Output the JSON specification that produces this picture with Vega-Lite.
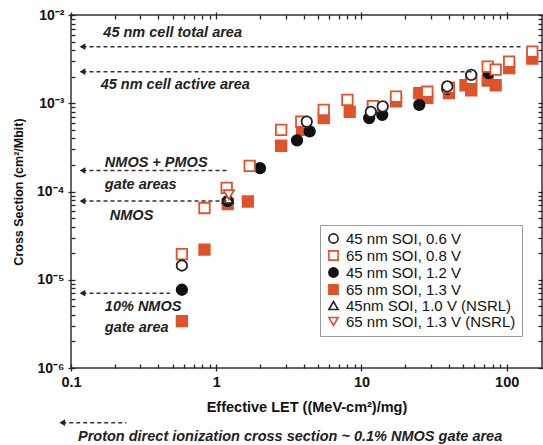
{
  "$schema": "https://vega.github.io/schema/vega-lite/v6.json",
  "width": 471,
  "height": 353,
  "autosize": "none",
  "padding": {"left": 71, "top": 15, "right": 1, "bottom": 77},
  "config": {
    "font": "Liberation Sans",
    "view": {"stroke": "#333", "strokeWidth": 1.5},
    "axis": {"domain": false, "tickColor": "#222", "tickWidth": 1.3, "ticks": true, "grid": false, "labelColor": "#111", "titleColor": "#111", "zindex": 2, "offset": -4}
  },
  "datasets": {
    "pts": [
      {"series": "65 nm SOI, 1.3 V", "let": 0.58, "cs": 3.4e-6},
      {"series": "65 nm SOI, 1.3 V", "let": 0.83, "cs": 2.2e-5},
      {"series": "65 nm SOI, 1.3 V", "let": 1.2, "cs": 7.2e-5},
      {"series": "65 nm SOI, 1.3 V", "let": 1.65, "cs": 7.7e-5},
      {"series": "65 nm SOI, 1.3 V", "let": 2.8, "cs": 3.3e-4},
      {"series": "65 nm SOI, 1.3 V", "let": 3.9, "cs": 5.0e-4},
      {"series": "65 nm SOI, 1.3 V", "let": 5.5, "cs": 6.8e-4},
      {"series": "65 nm SOI, 1.3 V", "let": 8.3, "cs": 8.0e-4},
      {"series": "65 nm SOI, 1.3 V", "let": 12, "cs": 8.9e-4},
      {"series": "65 nm SOI, 1.3 V", "let": 17.3, "cs": 1.05e-3},
      {"series": "65 nm SOI, 1.3 V", "let": 25, "cs": 1.3e-3},
      {"series": "65 nm SOI, 1.3 V", "let": 28.4, "cs": 1.15e-3},
      {"series": "65 nm SOI, 1.3 V", "let": 40, "cs": 1.3e-3},
      {"series": "65 nm SOI, 1.3 V", "let": 52, "cs": 1.6e-3},
      {"series": "65 nm SOI, 1.3 V", "let": 57, "cs": 1.4e-3},
      {"series": "65 nm SOI, 1.3 V", "let": 74, "cs": 1.8e-3},
      {"series": "65 nm SOI, 1.3 V", "let": 84, "cs": 1.6e-3},
      {"series": "65 nm SOI, 1.3 V", "let": 104, "cs": 2.5e-3},
      {"series": "65 nm SOI, 1.3 V", "let": 150, "cs": 3.2e-3},
      {"series": "45 nm SOI, 1.2 V", "let": 0.58, "cs": 7.7e-6},
      {"series": "45 nm SOI, 1.2 V", "let": 1.2, "cs": 7.8e-5},
      {"series": "45 nm SOI, 1.2 V", "let": 2.0, "cs": 1.84e-4},
      {"series": "45 nm SOI, 1.2 V", "let": 3.6, "cs": 3.8e-4},
      {"series": "45 nm SOI, 1.2 V", "let": 4.4, "cs": 4.8e-4},
      {"series": "45 nm SOI, 1.2 V", "let": 11.3, "cs": 6.8e-4},
      {"series": "45 nm SOI, 1.2 V", "let": 13.9, "cs": 7.4e-4},
      {"series": "45 nm SOI, 1.2 V", "let": 25, "cs": 9.6e-4},
      {"series": "45 nm SOI, 1.2 V", "let": 39, "cs": 1.45e-3},
      {"series": "45 nm SOI, 1.2 V", "let": 75, "cs": 2.2e-3},
      {"series": "65 nm SOI, 0.8 V", "let": 0.58, "cs": 1.95e-5},
      {"series": "65 nm SOI, 0.8 V", "let": 0.83, "cs": 6.5e-5},
      {"series": "65 nm SOI, 0.8 V", "let": 1.18, "cs": 1.1e-4},
      {"series": "65 nm SOI, 0.8 V", "let": 1.7, "cs": 1.95e-4},
      {"series": "65 nm SOI, 0.8 V", "let": 2.8, "cs": 5.0e-4},
      {"series": "65 nm SOI, 0.8 V", "let": 3.85, "cs": 6.2e-4},
      {"series": "65 nm SOI, 0.8 V", "let": 5.5, "cs": 8.4e-4},
      {"series": "65 nm SOI, 0.8 V", "let": 8, "cs": 1.09e-3},
      {"series": "65 nm SOI, 0.8 V", "let": 12, "cs": 9.3e-4},
      {"series": "65 nm SOI, 0.8 V", "let": 17.3, "cs": 1.19e-3},
      {"series": "65 nm SOI, 0.8 V", "let": 28.4, "cs": 1.35e-3},
      {"series": "65 nm SOI, 0.8 V", "let": 40, "cs": 1.5e-3},
      {"series": "65 nm SOI, 0.8 V", "let": 57, "cs": 1.9e-3},
      {"series": "65 nm SOI, 0.8 V", "let": 74, "cs": 2.6e-3},
      {"series": "65 nm SOI, 0.8 V", "let": 84, "cs": 2.4e-3},
      {"series": "65 nm SOI, 0.8 V", "let": 104, "cs": 2.96e-3},
      {"series": "65 nm SOI, 0.8 V", "let": 150, "cs": 3.84e-3},
      {"series": "45 nm SOI, 0.6 V", "let": 0.58, "cs": 1.45e-5},
      {"series": "45 nm SOI, 0.6 V", "let": 4.2, "cs": 6.2e-4},
      {"series": "45 nm SOI, 0.6 V", "let": 11.6, "cs": 8.0e-4},
      {"series": "45 nm SOI, 0.6 V", "let": 14, "cs": 9.2e-4},
      {"series": "45 nm SOI, 0.6 V", "let": 39, "cs": 1.55e-3},
      {"series": "45 nm SOI, 0.6 V", "let": 57, "cs": 2.1e-3},
      {"series": "45nm SOI, 1.0 V (NSRL)", "let": 1.2, "cs": 8.3e-5},
      {"series": "65 nm SOI, 1.3 V (NSRL)", "let": 1.22, "cs": 9.2e-5}
    ],
    "ann": [
      {"x1": 0.12, "x2": 128, "y": 4.38e-3},
      {"x1": 0.12, "x2": 58, "y": 2.28e-3},
      {"x1": 0.12, "x2": 1.2, "y": 1.73e-4},
      {"x1": 0.12, "x2": 1.2, "y": 7.8e-5},
      {"x1": 0.12, "x2": 0.48, "y": 7.05e-6},
      {"x1": 0.087, "x2": 0.24, "y": 2.4e-7}
    ],
    "txt": [
      {"x": 0.167, "y": 6.25e-3, "t": "45 nm cell total area"},
      {"x": 0.16, "y": 1.61e-3, "t": "45 nm cell active area"},
      {"x": 0.171, "y": 2.11e-4, "t": "NMOS + PMOS"},
      {"x": 0.171, "y": 1.19e-4, "t": "gate areas"},
      {"x": 0.185, "y": 5.3e-5, "t": "NMOS"},
      {"x": 0.171, "y": 4.93e-6, "t": "10% NMOS"},
      {"x": 0.171, "y": 2.85e-6, "t": "gate area"},
      {"x": 0.1117, "y": 1.66e-7, "t": "Proton direct ionization cross section ~ 0.1% NMOS gate area"}
    ]
  },
  "resolve": {"axis": {"x": "independent", "y": "independent"}},
  "layer": [
    {
      "data": {"name": "pts"},
      "mark": {"type": "point", "size": 110, "strokeWidth": 1.8, "opacity": 1},
      "encoding": {
        "x": {
          "field": "let", "type": "quantitative",
          "scale": {"type": "log", "domain": [0.1, 175], "nice": false},
          "axis": {
            "orient": "bottom",
            "title": "Effective LET ((MeV-cm²)/mg)",
            "titleFontSize": 14.5, "titleFontWeight": "bold", "titlePadding": 12,
            "values": [0.1,0.2,0.3,0.4,0.5,0.6,0.7,0.8,0.9,1,2,3,4,5,6,7,8,9,10,20,30,40,50,60,70,80,90,100],
            "labelExpr": "abs(log(datum.value)/LN10 - round(log(datum.value)/LN10)) < 0.001 ? format(datum.value, '~g') : ''",
            "labelFontSize": 14.5, "labelFontWeight": "bold", "labelPadding": 4,
            "tickSize": {"condition": {"test": "abs(log(datum.value)/LN10 - round(log(datum.value)/LN10)) < 0.001", "value": 7}, "value": 4},
            "labelFlush": false
          }
        },
        "y": {
          "field": "cs", "type": "quantitative",
          "scale": {"type": "log", "domain": [1e-6, 1e-2], "nice": false},
          "axis": {
            "orient": "left",
            "title": "Cross Section (cm²/Mbit)",
            "titleFontSize": 12.5, "titleFontWeight": "bold", "titlePadding": 11,
            "values": [1e-6,2e-6,3e-6,4e-6,5e-6,6e-6,7e-6,8e-6,9e-6,1e-5,2e-5,3e-5,4e-5,5e-5,6e-5,7e-5,8e-5,9e-5,1e-4,2e-4,3e-4,4e-4,5e-4,6e-4,7e-4,8e-4,9e-4,1e-3,2e-3,3e-3,4e-3,5e-3,6e-3,7e-3,8e-3,9e-3,1e-2],
            "labelExpr": "abs(log(datum.value)/LN10 - round(log(datum.value)/LN10)) > 0.001 ? '' : round(log(datum.value)/LN10) == -2 ? '10⁻²' : round(log(datum.value)/LN10) == -3 ? '10⁻³' : round(log(datum.value)/LN10) == -4 ? '10⁻⁴' : round(log(datum.value)/LN10) == -5 ? '10⁻⁵' : '10⁻⁶'",
            "labelFontSize": 14, "labelFontWeight": "bold", "labelPadding": 4,
            "tickSize": {"condition": {"test": "abs(log(datum.value)/LN10 - round(log(datum.value)/LN10)) < 0.001", "value": 7}, "value": 4},
            "labelFlush": false
          }
        },
        "shape": {
          "field": "series", "type": "nominal",
          "scale": {
            "domain": ["45 nm SOI, 0.6 V", "65 nm SOI, 0.8 V", "45 nm SOI, 1.2 V", "65 nm SOI, 1.3 V", "45nm SOI, 1.0 V (NSRL)", "65 nm SOI, 1.3 V (NSRL)"],
            "range": ["circle", "square", "circle", "square", "triangle-up", "triangle-down"]
          },
          "legend": {
            "title": null, "orient": "none", "legendX": 249, "legendY": 210,
            "strokeColor": "#999", "fillColor": "white", "padding": 6,
            "labelFontSize": 15, "labelColor": "#111", "symbolSize": 85, "symbolStrokeWidth": 1.6,
            "rowPadding": 0, "labelLimit": 300, "labelOffset": 5
          }
        },
        "stroke": {
          "field": "series", "type": "nominal",
          "scale": {
            "domain": ["45 nm SOI, 0.6 V", "65 nm SOI, 0.8 V", "45 nm SOI, 1.2 V", "65 nm SOI, 1.3 V", "45nm SOI, 1.0 V (NSRL)", "65 nm SOI, 1.3 V (NSRL)"],
            "range": ["#222222", "#e0522a", "#111111", "#e0522a", "#222222", "#e0522a"]
          },
          "legend": {"title": null, "orient": "none", "legendX": 249, "legendY": 210}
        },
        "fill": {
          "field": "series", "type": "nominal",
          "scale": {
            "domain": ["45 nm SOI, 0.6 V", "65 nm SOI, 0.8 V", "45 nm SOI, 1.2 V", "65 nm SOI, 1.3 V", "45nm SOI, 1.0 V (NSRL)", "65 nm SOI, 1.3 V (NSRL)"],
            "range": ["#ffffff", "#ffffff", "#111111", "#e0522a", "#ffffff", "#ffffff"]
          },
          "legend": {"title": null, "orient": "none", "legendX": 249, "legendY": 210}
        }
      }
    },
    {
      "data": {"name": "ann"},
      "mark": {"type": "rule", "strokeDash": [4, 3], "strokeWidth": 1.5, "color": "#333", "clip": false},
      "encoding": {
        "x": {"field": "x1", "type": "quantitative", "scale": {"type": "log", "domain": [0.1, 175], "nice": false}, "axis": null},
        "x2": {"field": "x2"},
        "y": {"field": "y", "type": "quantitative", "scale": {"type": "log", "domain": [1e-6, 1e-2], "nice": false}, "axis": null}
      }
    },
    {
      "data": {"name": "ann"},
      "mark": {"type": "point", "shape": "triangle-left", "filled": true, "size": 45, "color": "#222", "opacity": 1, "clip": false},
      "encoding": {
        "x": {"field": "x1", "type": "quantitative", "scale": {"type": "log", "domain": [0.1, 175], "nice": false},
          "axis": {"orient": "top", "title": null, "labels": false,
            "values": [0.1,0.2,0.3,0.4,0.5,0.6,0.7,0.8,0.9,1,2,3,4,5,6,7,8,9,10,20,30,40,50,60,70,80,90,100],
            "tickSize": {"condition": {"test": "abs(log(datum.value)/LN10 - round(log(datum.value)/LN10)) < 0.001", "value": 7}, "value": 4}}},
        "y": {"field": "y", "type": "quantitative", "scale": {"type": "log", "domain": [1e-6, 1e-2], "nice": false},
          "axis": {"orient": "right", "title": null, "labels": false,
            "values": [1e-6,2e-6,3e-6,4e-6,5e-6,6e-6,7e-6,8e-6,9e-6,1e-5,2e-5,3e-5,4e-5,5e-5,6e-5,7e-5,8e-5,9e-5,1e-4,2e-4,3e-4,4e-4,5e-4,6e-4,7e-4,8e-4,9e-4,1e-3,2e-3,3e-3,4e-3,5e-3,6e-3,7e-3,8e-3,9e-3,1e-2],
            "tickSize": {"condition": {"test": "abs(log(datum.value)/LN10 - round(log(datum.value)/LN10)) < 0.001", "value": 7}, "value": 4}}}
      }
    },
    {
      "data": {"name": "txt"},
      "mark": {"type": "text", "align": "left", "baseline": "middle", "fontStyle": "italic", "fontWeight": "bold", "fontSize": 14.5, "color": "#222", "clip": false},
      "encoding": {
        "x": {"field": "x", "type": "quantitative", "scale": {"type": "log", "domain": [0.1, 175], "nice": false}, "axis": null},
        "y": {"field": "y", "type": "quantitative", "scale": {"type": "log", "domain": [1e-6, 1e-2], "nice": false}, "axis": null},
        "text": {"field": "t"}
      }
    }
  ]
}
